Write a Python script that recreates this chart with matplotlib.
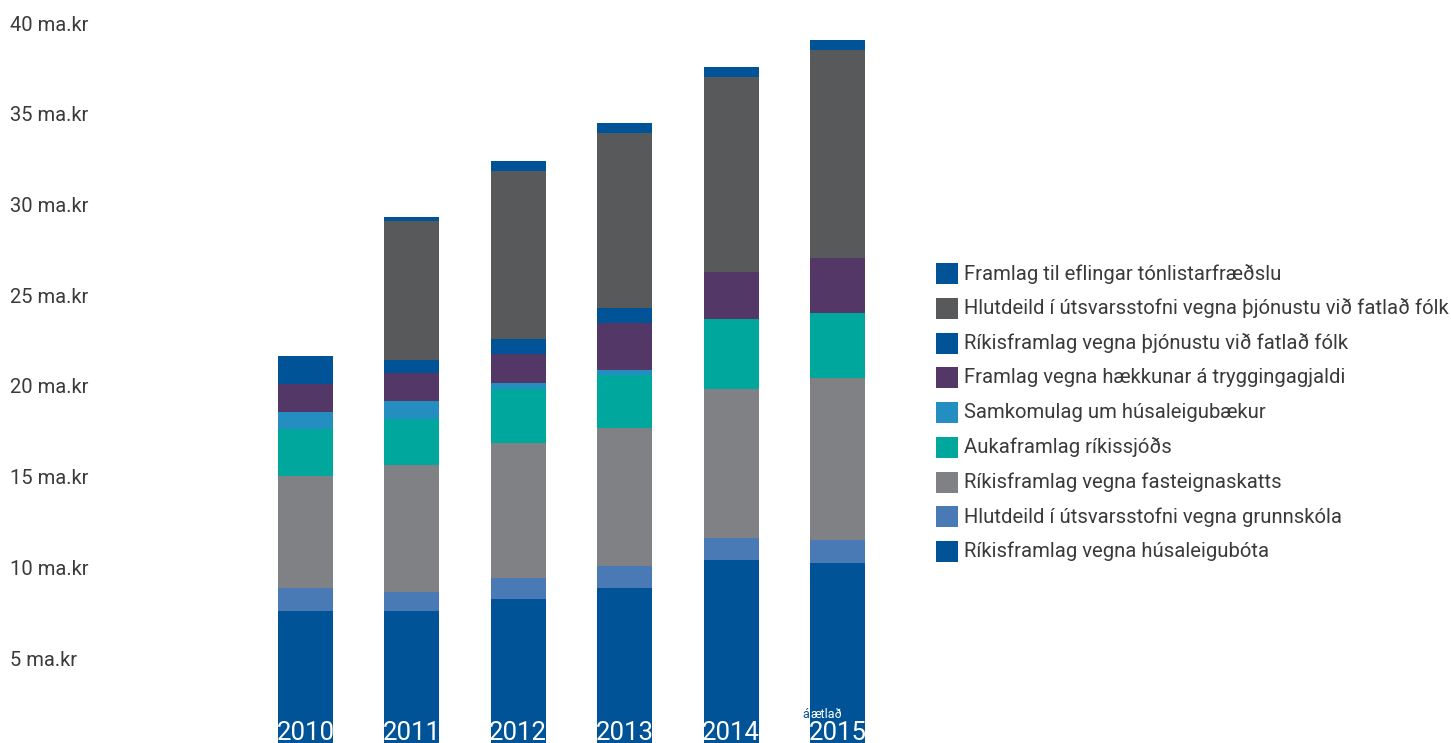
import numpy as np
import matplotlib.pyplot as plt
from matplotlib.patches import Rectangle

plt.rcParams['font.family'] = ['Roboto', 'DejaVu Sans']

years = ['2010', '2011', '2012', '2013', '2014', '2015']

# stacked from the bottom up (ma.kr)
husaleigubotar = [7.72, 7.72, 8.36, 8.99, 10.51, 10.36]
grunnskoli = [1.27, 1.05, 1.18, 1.21, 1.22, 1.28]
fasteignaskattur = [6.17, 6.98, 7.42, 7.61, 8.23, 8.93]
aukaframlag = [2.56, 2.54, 2.98, 2.90, 3.85, 3.56]
husaleigubaekur = [0.97, 0.99, 0.33, 0.29, 0.0, 0.0]
tryggingagjald = [1.54, 1.54, 1.62, 2.58, 2.58, 3.05]
rikis_fatlad = [1.53, 0.72, 0.81, 0.84, 0.0, 0.0]
hlutdeild_fatlad = [0.0, 7.66, 9.26, 9.63, 10.75, 11.45]
tonlist = [0.0, 0.22, 0.55, 0.55, 0.55, 0.54]

series = [
    ('Ríkisframlag vegna húsaleigubóta', husaleigubotar, '#005396'),
    ('Hlutdeild í útsvarsstofni vegna grunnskóla', grunnskoli, '#4a7ab6'),
    ('Ríkisframlag vegna fasteignaskatts', fasteignaskattur, '#808184'),
    ('Aukaframlag ríkissjóðs', aukaframlag, '#00a79d'),
    ('Samkomulag um húsaleigubækur', husaleigubaekur, '#238ebf'),
    ('Framlag vegna hækkunar á tryggingagjaldi', tryggingagjald, '#533767'),
    ('Ríkisframlag vegna þjónustu við fatlað fólk', rikis_fatlad, '#005396'),
    ('Hlutdeild í útsvarsstofni vegna þjónustu við fatlað fólk', hlutdeild_fatlad, '#58595b'),
    ('Framlag til eflingar tónlistarfræðslu', tonlist, '#005396'),
]

yticks = [5, 10, 15, 20, 25, 30, 35, 40]

W, H = 1451, 743
fig = plt.figure(figsize=(W / 100, H / 100), dpi=100)
ax = fig.add_axes([0, 0, 1, 1])

# pixel geometry of the reference
x0, dx = 305.5, 106.4
y0, dy = 750.7, 18.14
ax.set_xlim(-x0 / dx, (W - x0) / dx)
ax.set_ylim((y0 - H) / dy, y0 / dy)
ax.axis('off')

x = np.arange(len(years))
bottom = np.zeros(len(years))
for name, vals, col in series:
    ax.bar(x, vals, width=0.517, bottom=bottom, color=col, linewidth=0)
    bottom += np.array(vals)

txt = '#3a3a3a'
for t in yticks:
    ax.text(10 / W, t, f'{t} ma.kr', transform=ax.get_yaxis_transform(),
            ha='left', va='center', fontsize=14.5, color=txt)

for i, yr in enumerate(years):
    ax.text(x[i], (y0 - 740) / dy, yr, ha='center', va='baseline',
            fontsize=18.5, color='white')

# "áætlað" over the 2015 bar
ax.text(x[-1] - 0.262, (y0 - 718) / dy, 'á', ha='right', va='baseline',
        fontsize=9, color='#005396')
ax.text(x[-1] - 0.25, (y0 - 718) / dy, 'ætlað', ha='left', va='baseline',
        fontsize=9, color='white')

# legend, top row = last series
for k, (name, vals, col) in enumerate(series[::-1]):
    yc = 273.5 + 34.75 * k
    fig.patches.append(Rectangle((936 / W, 1 - (yc + 10.5) / H), 22 / W, 21 / H,
                                 transform=fig.transFigure, color=col, lw=0))
    fig.text(964 / W, 1 - yc / H, name, ha='left', va='center',
             fontsize=14.6, color=txt)

fig.savefig('out.png', dpi=100)
